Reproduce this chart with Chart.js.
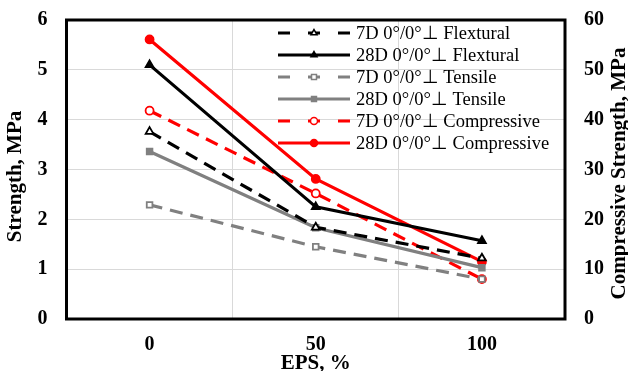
<!DOCTYPE html>
<html>
<head>
<meta charset="utf-8">
<script src="https://cdn.jsdelivr.net/npm/chart.js@4/dist/chart.umd.min.js"></script>
<style>
  html, body { margin: 0; padding: 0; background: #fff; }
  canvas { display: block; }
</style>
</head>
<body>
<canvas id="c" width="628" height="371"></canvas>
<script>
// ---- data ----
const categories = ['0', '50', '100'];
const flex7D  = [3.76, 1.84, 1.22];
const flex28D = [5.10, 2.25, 1.57];
const tens7D  = [2.29, 1.45, 0.80];
const tens28D = [3.36, 1.83, 1.03];
const comp7D  = [41.8, 25.2, 8.0];   // right axis
const comp28D = [56.1, 28.1, 11.5];  // right axis
const leftTicks = [0, 1, 2, 3, 4, 5, 6];
const rightTicks = [0, 10, 20, 30, 40, 50, 60];
const seriesNames = [
  '7D 0°/0°⊥ Flextural',
  '28D 0°/0°⊥ Flextural',
  '7D 0°/0°⊥ Tensile',
  '28D 0°/0°⊥ Tensile',
  '7D 0°/0°⊥ Compressive',
  '28D 0°/0°⊥ Compressive'
];
const yTitleLeft = 'Strength, MPa';
const yTitleRight = 'Compressive Strength, MPa';
const xTitle = 'EPS, %';

const SERIF = '"Liberation Serif", "Times New Roman", serif';
const BLACK = '#000000', GRAY = '#808080', RED = '#ff0000';
const DASH = [13, 8];

function ds(label, data, color, dashed, style, open, axis) {
  return {
    label, data, yAxisID: axis,
    borderColor: color, backgroundColor: open ? '#ffffff' : color,
    borderWidth: 3.2, borderDash: dashed ? DASH : [],
    pointStyle: style, pointRadius: style === 'triangle' ? 4.5 : 4,
    pointBorderColor: color, pointBackgroundColor: open ? '#ffffff' : color,
    pointBorderWidth: 1.8, tension: 0, fill: false
  };
}

const datasets = [
  ds(seriesNames[0], flex7D, BLACK, true, 'triangle', true, 'y'),
  ds(seriesNames[1], flex28D, BLACK, false, 'triangle', false, 'y'),
  ds(seriesNames[2], tens7D, GRAY, true, 'rect', true, 'y'),
  ds(seriesNames[3], tens28D, GRAY, false, 'rect', false, 'y'),
  ds(seriesNames[4], comp7D, RED, true, 'circle', true, 'y2'),
  ds(seriesNames[5], comp28D, RED, false, 'circle', false, 'y2')
];

const framePlugin = {
  id: 'frame',
  afterDatasetsDraw(chart) {
    const { ctx, chartArea: a } = chart;
    ctx.save();
    ctx.strokeStyle = '#000';
    ctx.lineWidth = 3;
    ctx.strokeRect(a.left, a.top, a.right - a.left, a.bottom - a.top);
    ctx.restore();
  }
};

const titlesPlugin = {
  id: 'titles',
  afterDraw(chart) {
    const { ctx, chartArea: a } = chart;
    const midY = (a.top + a.bottom) / 2;
    ctx.save();
    ctx.fillStyle = '#000';
    ctx.font = 'bold 21px ' + SERIF;
    ctx.textAlign = 'center';
    ctx.textBaseline = 'middle';
    ctx.save();
    ctx.translate(16, midY + 7);
    ctx.rotate(-Math.PI / 2);
    ctx.fillText(yTitleLeft, 0, 0);
    ctx.restore();
    ctx.save();
    ctx.translate(620, midY + 4);
    ctx.rotate(-Math.PI / 2);
    ctx.fillText(yTitleRight, 0, 0);
    ctx.restore();
    ctx.fillText(xTitle, (chart.scales.x.getPixelForValue(0) + chart.scales.x.getPixelForValue(2)) / 2, 364);
    ctx.restore();
  }
};

const legendPlugin = {
  id: 'innerLegend',
  afterDraw(chart) {
    const { ctx } = chart;
    ctx.save();
    const x0 = 278, x1 = 350, xm = 314, xt = 356, y0 = 33, step = 22;
    chart.data.datasets.forEach((d, i) => {
      const y = y0 + i * step;
      ctx.strokeStyle = d.borderColor;
      ctx.lineWidth = d.borderWidth;
      ctx.setLineDash(d.borderDash.length ? [12, 18] : []);
      ctx.beginPath();
      ctx.moveTo(x0, y);
      ctx.lineTo(x1, y);
      ctx.stroke();
      ctx.setLineDash([]);
      ctx.fillStyle = d.pointBackgroundColor;
      ctx.strokeStyle = d.pointBorderColor;
      ctx.lineWidth = 1.5;
      ctx.beginPath();
      Chart.helpers.drawPoint(ctx, {
        pointStyle: d.pointStyle, radius: 3.5, borderWidth: 1.5, rotation: 0
      }, xm, y);
      ctx.fillStyle = '#000';
      ctx.font = '18.5px ' + SERIF;
      ctx.textAlign = 'left';
      ctx.textBaseline = 'middle';
      ctx.fillText(d.label, xt, y + 1);
    });
    ctx.restore();
  }
};

function noPad(s) { s.paddingTop = 0; s.paddingBottom = 0; }

new Chart(document.getElementById('c'), {
  type: 'line',
  data: { labels: categories, datasets },
  plugins: [framePlugin, titlesPlugin, legendPlugin],
  options: {
    responsive: false,
    devicePixelRatio: 1,
    animation: false,
    layout: { padding: { top: 20, left: 0, right: 0, bottom: 0 } },
    plugins: { legend: { display: false }, tooltip: { enabled: false } },
    scales: {
      x: {
        type: 'category',
        offset: true,
        grid: { offset: true, color: '#d9d9d9', lineWidth: 1, drawTicks: false },
        border: { display: false },
        ticks: { color: '#000', font: { family: SERIF, size: 20, weight: 'bold' }, padding: 14, maxRotation: 0 },
        afterFit(s) { s.height = 52; s.paddingLeft = 0; s.paddingRight = 0; }
      },
      y: {
        position: 'left',
        min: 0, max: 6,
        afterBuildTicks(s) { s.ticks = leftTicks.map(v => ({ value: v })); },
        grid: { color: '#d9d9d9', lineWidth: 1, drawTicks: false },
        border: { display: false },
        ticks: { color: '#000', font: { family: SERIF, size: 20, weight: 'bold' }, padding: 19 },
        afterFit(s) { s.width = 66.5; noPad(s); }
      },
      y2: {
        position: 'right',
        min: 0, max: 60,
        afterBuildTicks(s) { s.ticks = rightTicks.map(v => ({ value: v })); },
        grid: { display: false, drawTicks: false },
        border: { display: false },
        ticks: { color: '#000', font: { family: SERIF, size: 20, weight: 'bold' }, padding: 19 },
        afterFit(s) { s.width = 63; noPad(s); }
      }
    }
  }
});
</script>
</body>
</html>
